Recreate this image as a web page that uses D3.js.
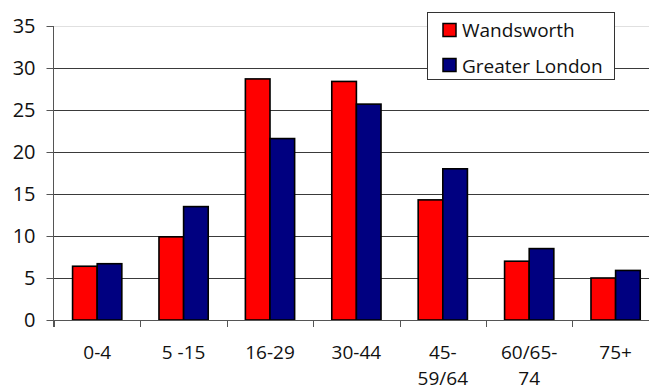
<!DOCTYPE html>
<html>
<head>
<meta charset="utf-8">
<script src="https://cdn.jsdelivr.net/npm/d3@7"></script>
<style>
  html, body { margin: 0; padding: 0; background: #fff; }
  svg { display: block; }
  text { font-family: "Open Sans", sans-serif; fill: #111; }
</style>
</head>
<body>
<svg id="chart" width="649" height="390"></svg>
<script>
const categories = ["0-4", "5 -15", "16-29", "30-44", "45-\n59/64", "60/65-\n74", "75+"];
const seriesNames = ["Wandsworth", "Greater London"];
const wandsworth = [6.4, 9.9, 28.7, 28.4, 14.3, 7.0, 5.0];
const greaterLondon = [6.7, 13.5, 21.6, 25.7, 18.0, 8.5, 5.9];
const colors = ["#ff0000", "#000080"];
const yTicks = [0, 5, 10, 15, 20, 25, 30, 35];

const svg = d3.select("#chart");
const mLeft = 54, mTop = 26, mBottom = 320, mRight = 658.8;

const x = d3.scaleBand().domain(categories).range([mLeft, mRight])
  .paddingInner(0.43).paddingOuter(0.215);
const xs = d3.scaleBand().domain(seriesNames).range([0, x.bandwidth()]);
const y = d3.scaleLinear().domain([0, 35]).range([mBottom, mTop]);
const step = x.step();

// gridlines
svg.append("g").selectAll("line").data(yTicks.filter(d => d > 0)).join("line")
  .attr("x1", mLeft).attr("x2", 649)
  .attr("y1", d => Math.round(y(d)) + 0.5).attr("y2", d => Math.round(y(d)) + 0.5)
  .attr("stroke", d => d === 35 ? "#e0e0e0" : "#3a3a3a").attr("stroke-width", 1);

// bars
const series = [wandsworth, greaterLondon];
const g = svg.append("g");
series.forEach((vals, si) => {
  g.selectAll(null).data(categories).join("rect")
    .attr("x", (c) => x(c) + xs(seriesNames[si]))
    .attr("y", (c, i) => y(vals[i]))
    .attr("width", xs.bandwidth())
    .attr("height", (c, i) => y(0) - y(vals[i]))
    .attr("fill", colors[si])
    .attr("stroke", "#000").attr("stroke-width", 1.6);
});

// y axis
const yAxis = svg.append("g").attr("transform", `translate(${mLeft - 0.5},0)`)
  .call(d3.axisLeft(y).tickValues(yTicks).tickSize(7).tickPadding(11));
yAxis.select(".domain").attr("stroke", "#555").attr("d", `M0,${mTop}V${mBottom + 7}`);
yAxis.selectAll(".tick line").attr("stroke", "#555");
yAxis.selectAll(".tick text").attr("font-size", 20).attr("font-family", "Open Sans").attr("fill", "#111");

// x axis
const xg = svg.append("g");
xg.append("line").attr("x1", mLeft - 7).attr("x2", 649)
  .attr("y1", mBottom + 0.5).attr("y2", mBottom + 0.5).attr("stroke", "#555");
const boundaries = d3.range(categories.length + 1).map(i => mLeft + i * step);
xg.selectAll(".xt").data(boundaries).join("line")
  .attr("x1", d => Math.round(d) + 0.5).attr("x2", d => Math.round(d) + 0.5)
  .attr("y1", mBottom).attr("y2", mBottom + 7).attr("stroke", "#555");
const labels = xg.selectAll(".xl").data(categories).join("text")
  .attr("text-anchor", "middle").attr("font-size", 19)
  .attr("x", c => x(c) + x.bandwidth() / 2).attr("y", 358.5);
labels.each(function(c) {
  const parts = c.split("\n");
  d3.select(this).selectAll("tspan").data(parts).join("tspan")
    .attr("x", x(c) + x.bandwidth() / 2)
    .attr("dy", (d, i) => i === 0 ? 0 : 26)
    .text(d => d);
});

// legend
const lg = svg.append("g");
lg.append("rect").attr("x", 427.5).attr("y", 12.5).attr("width", 187).attr("height", 67)
  .attr("fill", "#fff").attr("stroke", "#333").attr("stroke-width", 1);
seriesNames.forEach((name, i) => {
  lg.append("rect").attr("x", 443).attr("y", 23.5 + i * 35).attr("width", 13).attr("height", 13)
    .attr("fill", colors[i]).attr("stroke", "#000").attr("stroke-width", 1.5);
  lg.append("text").attr("x", 462).attr("y", 37 + i * 35.5).attr("font-size", 19).text(name);
});
</script>
</body>
</html>
